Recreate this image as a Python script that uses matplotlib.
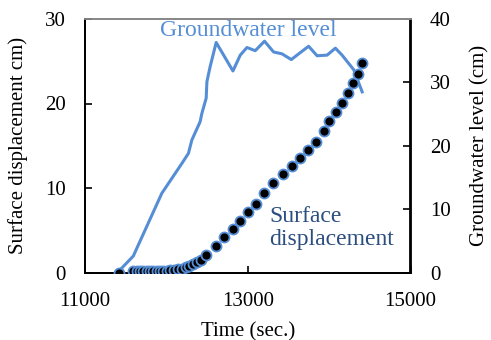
import matplotlib.pyplot as plt

plt.rcParams['font.family'] = ['Liberation Serif', 'DejaVu Serif']

# surface displacement (cm) vs time (sec.)
disp_t = [11420, 11595, 11636, 11677, 11718, 11759, 11800, 11841, 11882, 11923,
          11964, 12005, 12046, 12095, 12145, 12190, 12240, 12280, 12330, 12375,
          12420, 12489, 12609, 12711, 12818, 12908, 13002, 13096, 13194, 13314,
          13428, 13543, 13646, 13741, 13843, 13942, 13999, 14081, 14155, 14233,
          14295, 14360, 14406]
disp_cm = [0.0, 0.18, 0.18, 0.18, 0.18, 0.18, 0.18, 0.18, 0.18, 0.18,
           0.2, 0.21, 0.26, 0.3, 0.38, 0.45, 0.62, 0.8, 0.97, 1.2,
           1.48, 2.07, 3.14, 4.17, 5.15, 6.13, 7.16, 8.11, 9.44, 10.55,
           11.62, 12.6, 13.5, 14.5, 15.5, 16.7, 17.96, 19.0, 20.1, 21.2,
           22.4, 23.5, 24.8]

# groundwater level (cm) vs time (sec.)
gw_t = [11400, 11594, 11636, 11944, 12190, 12271, 12313, 12415, 12436, 12489,
        12498, 12538, 12612, 12818, 12908, 12990, 13092, 13206, 13317, 13421,
        13535, 13646, 13748, 13852, 13975, 14077, 14159, 14302, 14406]
gw_cm = [0.0, 2.6, 3.8, 12.5, 17.2, 18.8, 20.9, 23.8, 25.1, 27.5,
         30.1, 32.5, 36.3, 31.8, 34.3, 35.5, 35.0, 36.5, 34.8, 34.5,
         33.6, 34.7, 35.7, 34.2, 34.3, 35.4, 34.3, 32.0, 28.5]

line_blue = '#558ED5'
text_blue = '#2B4E7E'

fig = plt.figure(figsize=(4.91, 3.40), dpi=100)
ax = fig.add_axes([85 / 491, 1 - 272.5 / 340, 325.5 / 491, 253.5 / 340])
ax2 = ax.twinx()

ax2.plot(gw_t, gw_cm, color=line_blue, lw=2.2, zorder=2)
ax.plot(disp_t, disp_cm, 'o', color='black', markersize=7.2,
        markeredgecolor=line_blue, markeredgewidth=1.3, zorder=5)
ax.set_zorder(ax2.get_zorder() + 1)
ax.patch.set_visible(False)

ax.set_xlim(11000, 15000)
ax.set_ylim(0, 30)
ax2.set_ylim(0, 40)
ax.set_xticks([11000, 13000, 15000])
ax.set_yticks([0, 10, 20, 30])
ax2.set_yticks([0, 10, 20, 30, 40])

ax.tick_params(axis='both', direction='in', labelsize=15, length=5, width=1.2, pad=14)
ax2.tick_params(axis='y', direction='in', labelsize=15, length=5, width=1.2, pad=14)

for a in (ax, ax2):
    for s in ('left', 'right', 'bottom'):
        a.spines[s].set_linewidth(1.3)
        a.spines[s].set_color('black')
    a.spines['top'].set_color('#888888')
    a.spines['top'].set_linewidth(1.3)

ax.set_xlabel('Time (sec.)', fontsize=15, labelpad=8)
ax.set_ylabel('Surface displacement cm)', fontsize=15, labelpad=12)
ax2.set_ylabel('Groundwater level (cm)', fontsize=15, labelpad=14)

ax.text(0.231, 0.995, 'Groundwater level', transform=ax.transAxes,
        fontsize=17, color=line_blue, va='top', ha='left')
ax.text(0.565, 0.262, 'Surface\ndisplacement', transform=ax.transAxes,
        fontsize=17, color=text_blue, va='top', ha='left', linespacing=1.15)

fig.savefig('out.png', dpi=100)
